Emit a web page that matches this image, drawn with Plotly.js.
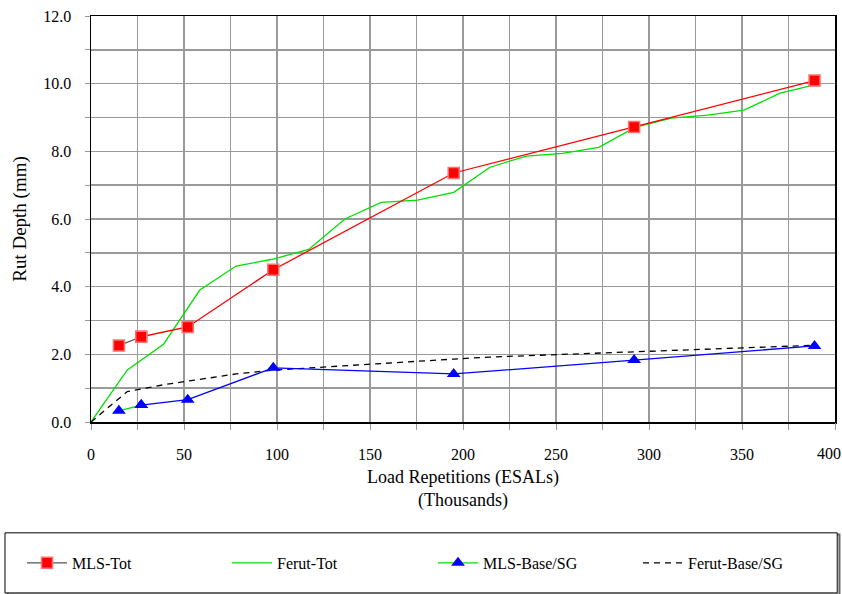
<!DOCTYPE html>
<html>
<head>
<meta charset="utf-8">
<script src="https://cdn.plot.ly/plotly-3.0.1.min.js"></script>
<style>html,body{margin:0;padding:0;background:#fff;}#chart{width:842px;height:594px;}</style>
</head>
<body>
<div id="chart"></div>
<script>
// MLS measurements (thousands of ESALs, mm)
const mlsX = [15, 27, 52, 98, 195, 292, 389];
const mlsTot = [2.26, 2.52, 2.81, 4.50, 7.36, 8.72, 10.09];
const mlsBase = [0.33, 0.50, 0.66, 1.60, 1.42, 1.83, 2.25];
// Ferut model
const ferutX = [0, 19.5, 39, 58.5, 78, 97.5, 117, 136.5, 156, 175.5, 195, 214.5, 234, 253.5, 273, 292.5, 312, 331.5, 351, 370.5, 390];
const ferutTot = [0, 1.54, 2.30, 3.90, 4.61, 4.81, 5.10, 6.00, 6.49, 6.56, 6.79, 7.53, 7.86, 7.94, 8.12, 8.71, 8.98, 9.07, 9.22, 9.72, 9.98];
const ferutBase = [0, 0.90, 1.10, 1.25, 1.42, 1.53, 1.60, 1.67, 1.73, 1.80, 1.86, 1.92, 1.96, 2.00, 2.04, 2.07, 2.11, 2.15, 2.19, 2.23, 2.27];
// x tick labels
const xTicks = [0, 50, 100, 150, 200, 250, 300, 350, 400];

const FONT = 'Liberation Serif';
const sqMarker = {symbol: 'square', size: 11, color: '#ff0000', line: {color: '#ff7070', width: 1.5}};
const triMarker = {symbol: 'triangle-up', size: 12, color: '#0000ff', line: {width: 0}};

const traces = [
  {x: ferutX, y: ferutTot, mode: 'lines', name: 'Ferut-Tot', legend: 'legend', legendrank: 2,
   line: {color: '#00e000', width: 1.3}},
  {x: mlsX.slice(1), y: mlsTot.slice(1), mode: 'lines+markers', name: 'MLS-Tot', showlegend: false,
   line: {color: '#ff0000', width: 1.3}, marker: sqMarker},
  {x: mlsX.slice(0, 2), y: mlsTot.slice(0, 2), mode: 'lines+markers', name: 'MLS-Tot', legend: 'legend', legendrank: 1,
   line: {color: '#555555', width: 1.3}, marker: sqMarker},
  {x: ferutX, y: ferutBase, xaxis: 'x2', mode: 'lines', name: 'Ferut-Base/SG', legend: 'legend2', legendrank: 2,
   line: {color: '#000000', width: 1.3, dash: '6px,5px'}},
  {x: mlsX.slice(1), y: mlsBase.slice(1), xaxis: 'x2', mode: 'lines+markers', name: 'MLS-Base/SG', showlegend: false,
   line: {color: '#0000ff', width: 1.3}, marker: triMarker},
  {x: mlsX.slice(0, 2), y: mlsBase.slice(0, 2), xaxis: 'x2', mode: 'lines+markers', name: 'MLS-Base/SG', legend: 'legend2', legendrank: 1,
   line: {color: '#00e000', width: 1.3}, marker: triMarker}
];

const legendBase = {
  orientation: 'h', xanchor: 'left', y: -0.347, yanchor: 'middle',
  entrywidth: 150, entrywidthmode: 'pixels', itemwidth: 40,
  font: {family: FONT, size: 16, color: '#000'}, bgcolor: 'rgba(0,0,0,0)', borderwidth: 0,
  traceorder: 'normal'
};

const layout = {
  width: 842, height: 594,
  margin: {l: 91, r: 7, t: 16, b: 172, autoexpand: false},
  paper_bgcolor: '#ffffff', plot_bgcolor: '#ffffff',
  font: {family: FONT, size: 16, color: '#000'},
  showlegend: true,
  xaxis: {
    range: [0, 400], tickmode: 'array', tickvals: xTicks.slice(0, -1),
    showgrid: true, gridcolor: '#9a9a9a', gridwidth: 1.5,
    minor: {dtick: 25, tick0: 0, showgrid: true, gridcolor: '#9a9a9a', gridwidth: 1.5, ticks: 'outside', ticklen: 6, tickcolor: '#999'},
    ticks: 'outside', ticklen: 6, tickcolor: '#999', ticklabelstandoff: 11,
    showline: true, linecolor: '#000', linewidth: 1.5, mirror: true,
    zeroline: false, tickfont: {family: FONT, size: 16},
    title: {text: 'Load Repetitions (ESALs)<br>(Thousands)', font: {family: FONT, size: 18}, standoff: 8}
  },
  xaxis2: {
    range: [0, 400], overlaying: 'x', anchor: 'y', side: 'bottom',
    tickmode: 'array', tickvals: xTicks.slice(-1),
    showgrid: false, zeroline: false, showline: false,
    ticks: 'outside', ticklen: 6, tickcolor: '#999', ticklabelstandoff: 11,
    ticklabelshift: -6, ticklabeloverflow: 'allow',
    tickfont: {family: FONT, size: 16}
  },
  yaxis: {
    range: [0, 12], dtick: 2, tick0: 0, tickformat: '.1f',
    showgrid: true, gridcolor: '#9a9a9a', gridwidth: 1.5,
    minor: {dtick: 1, showgrid: true, gridcolor: '#9a9a9a', gridwidth: 1.5, ticks: 'outside', ticklen: 5, tickcolor: '#999'},
    ticks: 'outside', ticklen: 5, tickcolor: '#999', ticklabelstandoff: 10,
    showline: true, linecolor: '#000', linewidth: 1.5, mirror: true,
    zeroline: false, tickfont: {family: FONT, size: 16},
    title: {text: 'Rut Depth (mm)', font: {family: FONT, size: 19}, standoff: 11}
  },
  legend: Object.assign({}, legendBase, {x: -0.0927}),
  legend2: Object.assign({}, legendBase, {x: 0.4597}),
  shapes: [
    {type: 'rect', xref: 'paper', yref: 'paper', x0: -0.112, x1: 1.006, y0: -0.425, y1: -0.277,
     line: {color: '#666', width: 2}, layer: 'below'},
    {type: 'rect', xref: 'paper', yref: 'paper', x0: -0.1156, x1: 1.003, y0: -0.421, y1: -0.273,
     line: {color: '#000', width: 1}, fillcolor: '#fff', layer: 'below'}
  ]
};

Plotly.newPlot('chart', traces, layout, {displayModeBar: false, staticPlot: true});
</script>
</body>
</html>
